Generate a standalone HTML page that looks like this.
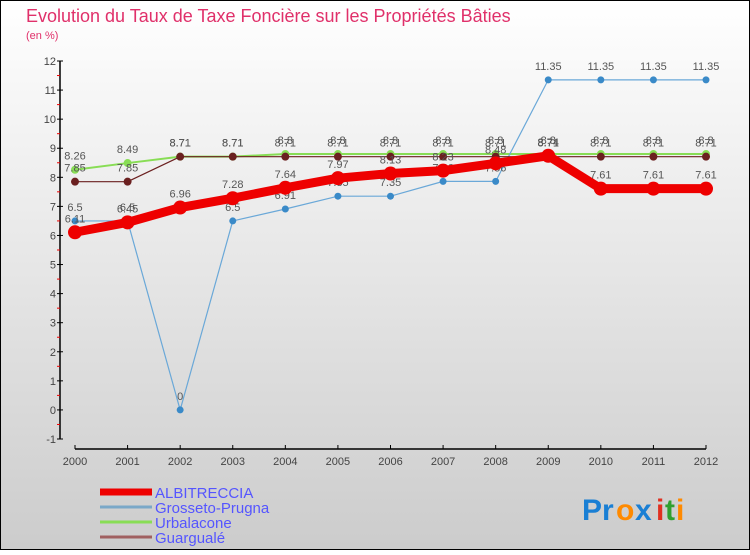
<!DOCTYPE html>
<html><head><meta charset="utf-8"><style>
body{margin:0;width:750px;height:550px;overflow:hidden;font-family:"Liberation Sans",sans-serif}
</style></head><body>
<svg id="chart" width="750" height="550" xmlns="http://www.w3.org/2000/svg">
<defs><linearGradient id="bg" x1="0" y1="0" x2="0" y2="1"><stop offset="0" stop-color="#ffffff"/><stop offset="1" stop-color="#cccccc"/></linearGradient></defs>
<rect x="0.5" y="0.5" width="749" height="549" fill="url(#bg)" stroke="#000" stroke-width="1"/>
<text x="26" y="22" font-size="18" fill="#e0306a">Evolution du Taux de Taxe Foncière sur les Propriétés Bâties</text>
<text x="26" y="39" font-size="11" fill="#e0306a">(en %)</text>
<g id="axes"></g>
<g id="series"></g>
<g id="legend"></g>
<g font-size="30" font-weight="bold">
<text x="582" y="520" fill="#1a7fd4">Pr</text><text x="616" y="520" fill="#ff8a00">o</text><text x="635" y="520" fill="#1a7fd4">x</text><text x="656" y="520" fill="#e03020">i</text><text x="665" y="520" fill="#30a030">t</text><text x="676" y="520" fill="#ff8a00">i</text>
</g>
</svg>
<script>
const years=[2000,2001,2002,2003,2004,2005,2006,2007,2008,2009,2010,2011,2012];
const yTicks=[-1,0,1,2,3,4,5,6,7,8,9,10,11,12];
const seriesNames=["ALBITRECCIA","Grosseto-Prugna","Urbalacone","Guargualé"];
const albitreccia=[6.11,6.45,6.96,7.28,7.64,7.97,8.13,8.23,8.48,8.74,7.61,7.61,7.61];
const grosseto=[6.5,6.5,0,6.5,6.91,7.35,7.35,7.86,7.86,11.35,11.35,11.35,11.35];
const urbalacone=[8.26,8.49,8.71,8.71,8.8,8.8,8.8,8.8,8.8,8.8,8.8,8.8,8.8];
const guarguale=[7.85,7.85,8.71,8.71,8.71,8.71,8.71,8.71,8.71,8.71,8.71,8.71,8.71];
const NS="http://www.w3.org/2000/svg";
const x0=75,x1=706,yTop=61,yBot=439,vMin=-1,vMax=12;
const X=i=>x0+(x1-x0)*i/(years.length-1);
const Y=v=>yBot-(v-vMin)*(yBot-yTop)/(vMax-vMin);
function el(tag,attrs,parent,txt){const e=document.createElementNS(NS,tag);for(const k in attrs)e.setAttribute(k,attrs[k]);if(txt!==undefined)e.textContent=txt;parent.appendChild(e);return e;}
const axes=document.getElementById('axes');
let e=el('line',{x1:60,y1:yTop,x2:60,y2:yBot,stroke:'#000','stroke-width':1.5},axes);


yTicks.forEach(v=>{
 el('line',{x1:57,y1:Y(v),x2:63,y2:Y(v),stroke:'#000'},axes);
 if(v<vMax) el('line',{x1:57,y1:Y(v+0.5),x2:60,y2:Y(v+0.5),stroke:'#e00'},axes);
 const t=el('text',{x:56,y:Y(v)+4,'font-size':11,fill:'#444','text-anchor':'end'},axes,String(v));
 
 
});
e=el('line',{x1:x0,y1:449,x2:x1,y2:449,stroke:'#000','stroke-width':1.5},axes);


years.forEach((yr,i)=>{
 el('line',{x1:X(i),y1:445,x2:X(i),y2:449,stroke:'#000'},axes);
 const t=el('text',{x:X(i),y:465,'font-size':11,fill:'#444','text-anchor':'middle'},axes,String(yr));
 
 
});
const sg=document.getElementById('series');
const styles=[
 {d:urbalacone,c:'#88dd55',w:2,r:4,name:'urbalacone'},
 {d:grosseto,c:'#6aa8d8',w:1.2,r:3.5,name:'grosseto-prugna',fc:'#3a8ac8'},
 {d:guarguale,c:'#6b2020',w:1.2,r:4,name:'guargule'},
 {d:albitreccia,c:'#ee0000',w:9,r:7,name:'albitreccia'}
];
styles.forEach(s=>{
 const g=el('g',{},sg);
 
 
 el('polyline',{points:s.d.map((v,i)=>X(i)+','+Y(v)).join(' '),fill:'none',stroke:s.c,'stroke-width':s.w,'stroke-linejoin':'round'},g);
 s.d.forEach((v,i)=>{
  const p=el('circle',{cx:X(i),cy:Y(v),r:s.r,fill:s.fc||s.c},g);
  
  
  el('text',{x:X(i),y:Y(v)-10,'font-size':11,fill:'#555','text-anchor':'middle'},g,String(v));
 });
});
const lg=document.getElementById('legend');
const lstyles=[['#ee0000',7],['#7aa8c8',3],['#88dd55',3],['#a06060',3]];
seriesNames.forEach((n,i)=>{
 const y=492+i*15;
 const g=el('g',{},lg);
 
 
 el('line',{x1:100,y1:y,x2:152,y2:y,stroke:lstyles[i][0],'stroke-width':lstyles[i][1]},g);
 el('text',{x:155,y:y+6,'font-size':15,fill:'#5555ff'},g,n);
});
</script>
</body></html>
